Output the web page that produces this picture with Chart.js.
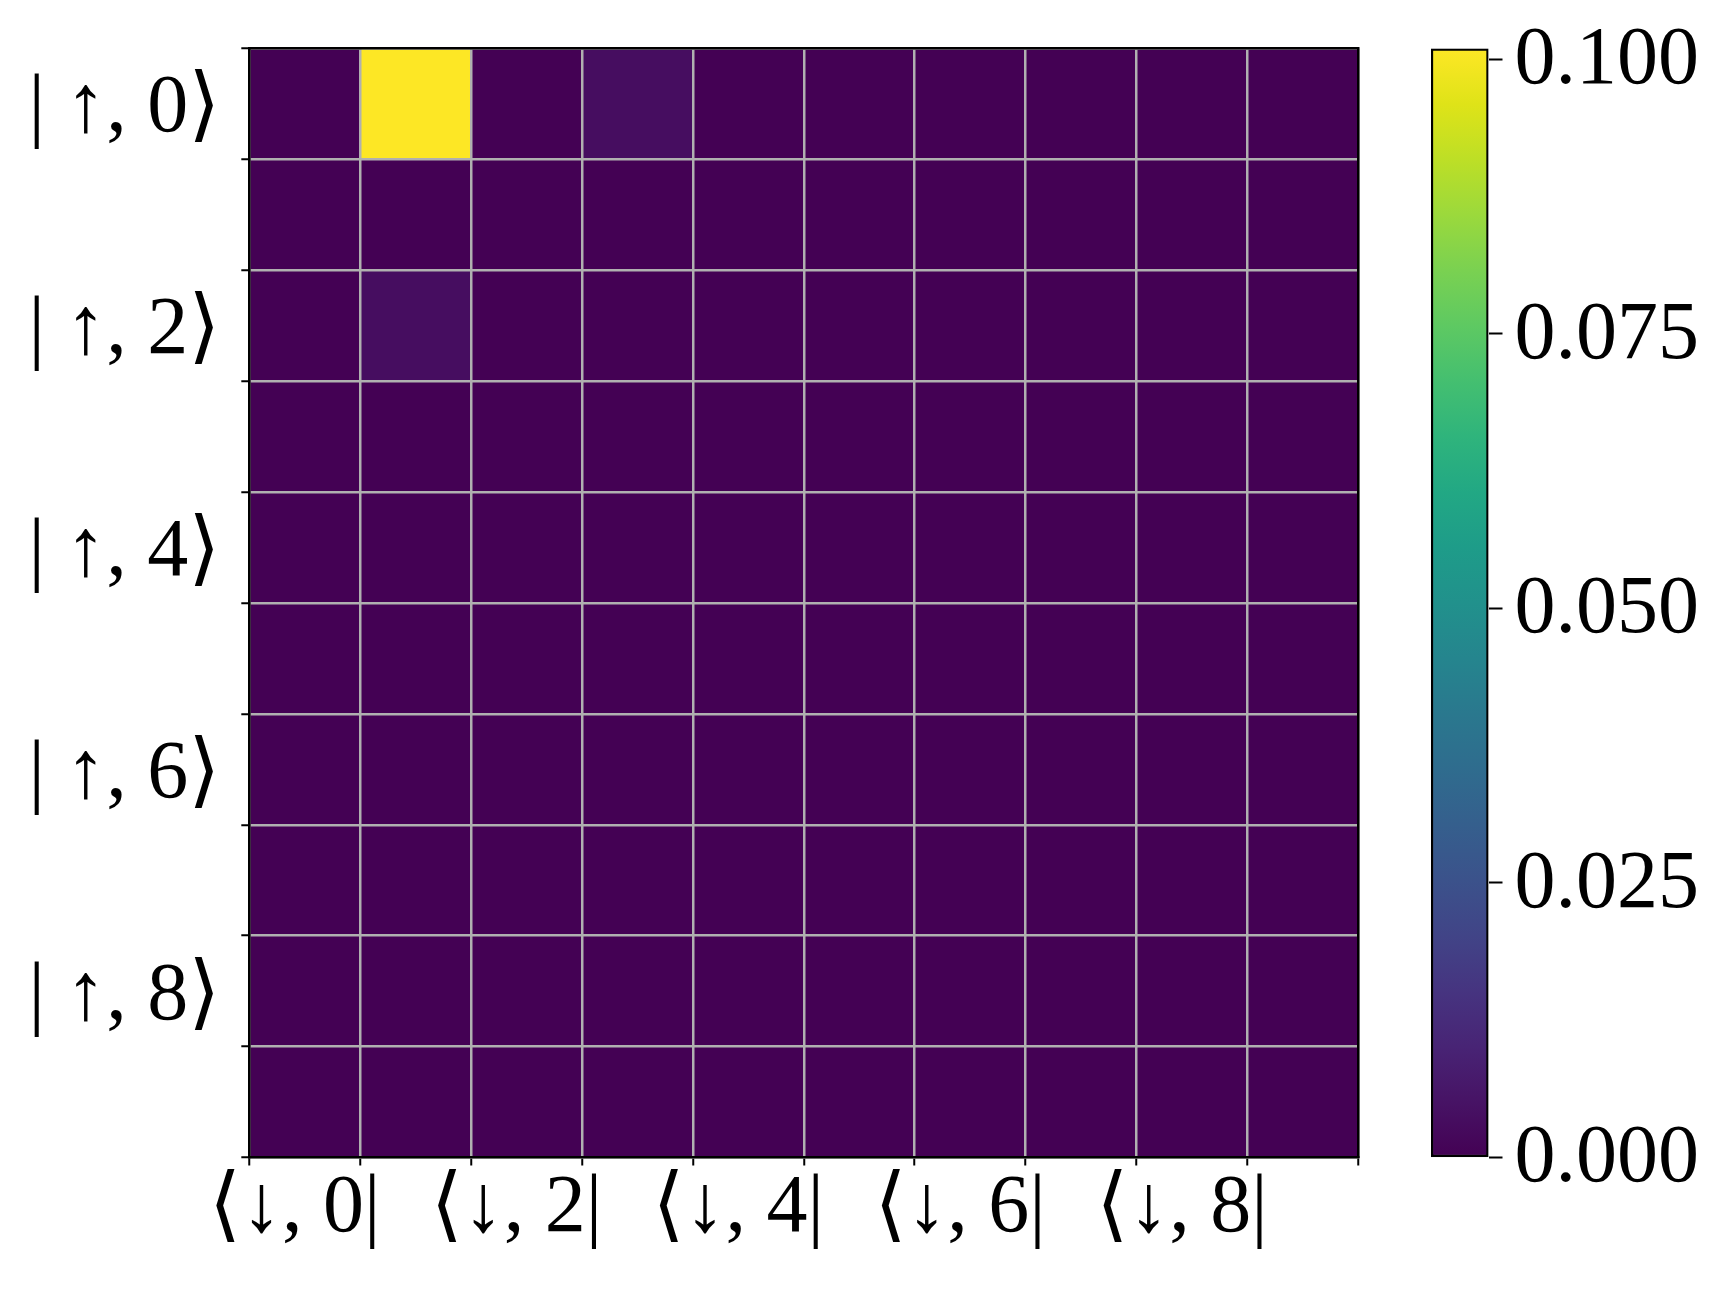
<!DOCTYPE html>
<html>
<head>
<meta charset="utf-8">
<script src="https://cdn.jsdelivr.net/npm/chart.js@4.4.1/dist/chart.umd.min.js"></script>
<style>
  html, body { margin: 0; padding: 0; background: #fff; }
  #wrap { position: relative; width: 1730px; height: 1290px; }
  #main { position: absolute; left: 0; top: 0; }
  #cbar { position: absolute; left: 1400px; top: 0; }
</style>
</head>
<body>
<div id="wrap">
  <canvas id="main" width="1400" height="1290"></canvas>
  <canvas id="cbar" width="330" height="1290"></canvas>
</div>
<script>
// columns (bra labels) and rows (ket labels), only even ones are labelled
const colLabels = ['⟨↓, 0|', '', '⟨↓, 2|', '', '⟨↓, 4|', '', '⟨↓, 6|', '', '⟨↓, 8|', ''];
const rowLabels = ['| ↑, 0⟩', '', '| ↑, 2⟩', '', '| ↑, 4⟩', '', '| ↑, 6⟩', '', '| ↑, 8⟩', ''];

// matrix elements, one array per row
const row0 = [0, 0.101, 0, 0.0035, 0, 0, 0, 0, 0, 0];
const row1 = [0, 0, 0, 0, 0, 0, 0, 0, 0, 0];
const row2 = [0, 0.0035, 0, 0, 0, 0, 0, 0, 0, 0];
const row3 = [0, 0, 0, 0, 0, 0, 0, 0, 0, 0];
const row4 = [0, 0, 0, 0, 0, 0, 0, 0, 0, 0];
const row5 = [0, 0, 0, 0, 0, 0, 0, 0, 0, 0];
const row6 = [0, 0, 0, 0, 0, 0, 0, 0, 0, 0];
const row7 = [0, 0, 0, 0, 0, 0, 0, 0, 0, 0];
const row8 = [0, 0, 0, 0, 0, 0, 0, 0, 0, 0];
const row9 = [0, 0, 0, 0, 0, 0, 0, 0, 0, 0];
const densityRows = [row0, row1, row2, row3, row4, row5, row6, row7, row8, row9];

const colorbarTicks = [0, 0.025, 0.05, 0.075, 0.1];
const vmin = 0;
const vmax = 0.101;

// viridis colour table, 21 stops
const viridis = ['#440154', '#471365', '#482475', '#463480', '#414487', '#3b528b', '#355f8d',
  '#2f6c8e', '#2a788e', '#25858e', '#21918c', '#1e9c89', '#22a884', '#2fb47c', '#44bf70',
  '#5ec962', '#7ad151', '#9bd93c', '#bddf26', '#dfe318', '#fde725'];

function hexToRgb(h) {
  return [parseInt(h.slice(1, 3), 16), parseInt(h.slice(3, 5), 16), parseInt(h.slice(5, 7), 16)];
}

function colormap(v) {
  let t = (v - vmin) / (vmax - vmin);
  t = Math.min(1, Math.max(0, t));
  const pos = t * (viridis.length - 1);
  const i = Math.min(viridis.length - 2, Math.floor(pos));
  const f = pos - i;
  const a = hexToRgb(viridis[i]);
  const b = hexToRgb(viridis[i + 1]);
  const c = a.map((x, k) => Math.round(x + (b[k] - x) * f));
  return `rgb(${c[0]}, ${c[1]}, ${c[2]})`;
}

const FONT = "'Liberation Serif', 'DejaVu Serif', serif";
const GRID = '#b0b0b0';

// one floating-bar dataset per row, each bar spans one row of the reversed y axis
const datasets = densityRows.map((row, r) => ({
  label: rowLabels[r],
  data: row.map(() => [r, r + 1]),
  backgroundColor: row.map((v) => colormap(v)),
  borderWidth: 0,
  grouped: false,
  barPercentage: 1,
  categoryPercentage: 1,
}));

const edgeAxis = (position) => ({
  type: 'linear',
  position: position,
  display: true,
  grid: { display: false, drawTicks: false },
  ticks: { display: false },
  border: { display: true, color: '#000', width: 2.5, z: 3 },
  afterFit: (s) => {
    if (position === 'top') s.height = 0; else s.width = 0;
    s.paddingTop = 0; s.paddingBottom = 0; s.paddingLeft = 0; s.paddingRight = 0;
  },
});

new Chart(document.getElementById('main').getContext('2d'), {
  type: 'bar',
  data: {
    labels: colLabels,
    datasets: datasets,
  },
  options: {
    responsive: false,
    animation: false,
    layout: { padding: { top: 48.5, right: 41.8, bottom: 0, left: 0 } },
    plugins: { legend: { display: false }, tooltip: { enabled: false } },
    scales: {
      x: {
        type: 'category',
        offset: true,
        grid: {
          offset: true,
          z: 1,
          color: GRID,
          lineWidth: 2.5,
          tickColor: '#000',
          tickWidth: 2,
          tickLength: 8,
        },
        border: { display: true, color: '#000', width: 2.5, z: 3 },
        ticks: {
          autoSkip: false,
          maxRotation: 0,
          minRotation: 0,
          padding: 3,
          labelOffset: -10,
          color: '#000',
          font: { family: FONT, size: 82, lineHeight: 1.0 },
        },
        afterFit: (s) => {
          s.height = 132.5;
          s.paddingLeft = 0; s.paddingRight = 0;
        },
      },
      y: {
        type: 'linear',
        reverse: true,
        min: 0,
        max: densityRows.length,
        afterBuildTicks: (s) => {
          const t = [];
          for (let i = 0; i <= densityRows.length; i++) {
            t.push({ value: i });
            if (i < densityRows.length) t.push({ value: i + 0.5 });
          }
          s.ticks = t;
        },
        grid: {
          z: 1,
          color: (c) => (c.tick && Number.isInteger(c.tick.value) ? GRID : 'rgba(0,0,0,0)'),
          tickColor: (c) => (c.tick && Number.isInteger(c.tick.value) ? '#000' : 'rgba(0,0,0,0)'),
          lineWidth: 2.5,
          tickWidth: 2,
          tickLength: 8,
        },
        border: { display: true, color: '#000', width: 2.5, z: 3 },
        ticks: {
          autoSkip: false,
          padding: 21,
          labelOffset: 6,
          color: '#000',
          font: { family: FONT, size: 82, lineHeight: 1.0 },
          callback: (v) => (Number.isInteger(v) ? '' : rowLabels[Math.floor(v)]),
        },
        afterFit: (s) => {
          s.width = 249.3;
          s.paddingTop = 0; s.paddingBottom = 0;
        },
      },
      xTop: edgeAxis('top'),
      yRight: edgeAxis('right'),
    },
  },
});

// colour bar: one bar from vmin to vmax filled with the colormap
new Chart(document.getElementById('cbar').getContext('2d'), {
  type: 'bar',
  data: {
    labels: ['scale'],
    datasets: [{
      data: [[vmin, vmax]],
      backgroundColor: (c) => {
        const chart = c.chart;
        if (!chart.chartArea) return viridis[0];
        const y = chart.scales.y;
        const g = chart.ctx.createLinearGradient(0, y.getPixelForValue(vmin), 0, y.getPixelForValue(vmax));
        viridis.forEach((col, i) => g.addColorStop(i / (viridis.length - 1), col));
        return g;
      },
      borderColor: '#000',
      borderWidth: 2.5,
      borderSkipped: false,
      barPercentage: 1,
      categoryPercentage: 1,
    }],
  },
  options: {
    responsive: false,
    animation: false,
    layout: { padding: { top: 48.5, right: 0, bottom: 132.5, left: 31 } },
    plugins: { legend: { display: false }, tooltip: { enabled: false } },
    scales: {
      x: { display: false },
      y: {
        type: 'linear',
        position: 'right',
        min: vmin,
        max: vmax,
        afterBuildTicks: (s) => { s.ticks = colorbarTicks.map((v) => ({ value: v })); },
        grid: {
          drawOnChartArea: false,
          tickColor: '#000',
          tickWidth: 2,
          tickLength: 14,
        },
        border: { display: false },
        ticks: {
          padding: 12,
          labelOffset: 2,
          color: '#000',
          font: { family: FONT, size: 82, lineHeight: 1.0 },
          callback: (v) => v.toFixed(3),
        },
        afterFit: (s) => {
          s.width = 330 - 31 - 57.5;
          s.paddingTop = 0; s.paddingBottom = 0;
        },
      },
    },
  },
});
</script>
</body>
</html>
